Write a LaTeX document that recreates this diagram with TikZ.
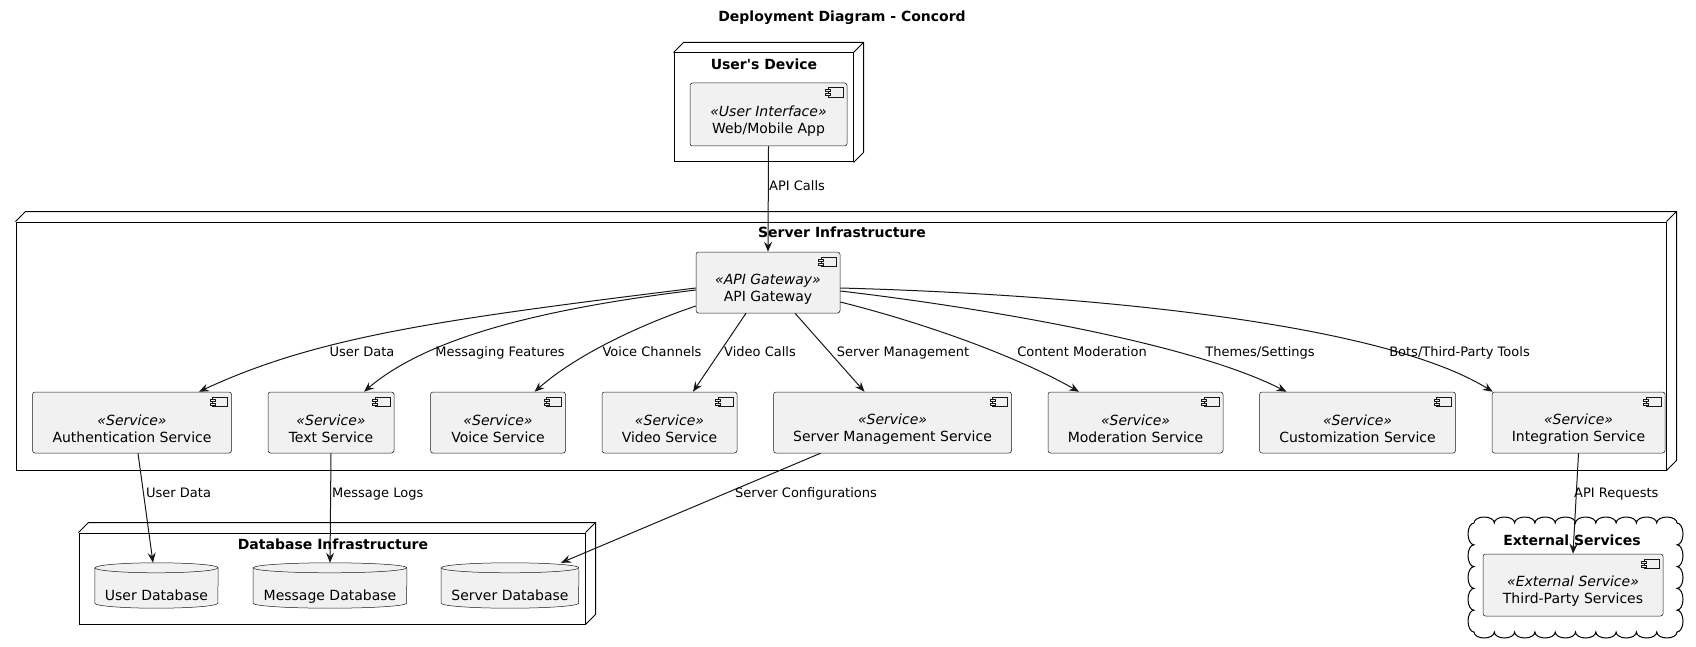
\documentclass[tikz,border=0pt]{standalone}
\usepackage{fontspec}
\setmainfont{DejaVu Sans}
\usetikzlibrary{arrows.meta,positioning,calc,backgrounds}

\definecolor{compfill}{HTML}{F1F1F1}
\definecolor{compline}{HTML}{181818}

\newcommand{\stereo}[1]{\rule{0pt}{23pt}\textit{«#1»}}
% small component icon in the top right corner
\newcommand{\compicon}[1]{%
  \draw[iconline] ($(#1.north east)+(-19.5,5)$) rectangle ++(15,9.5);
  \draw[iconline] ($(#1.north east)+(-22,7)$) rectangle ++(5,2);
  \draw[iconline] ($(#1.north east)+(-22,11)$) rectangle ++(5,2);
}
% top and side faces of a deployment node
\newcommand{\nodeback}[1]{%
  \draw[depline] (#1.north west) -- ++(10,-10) -| ($(#1.south east)+(10,-10)$) -- (#1.south east);
  \draw[depline] (#1.north east) -- ++(10,-10);
}
% database cylinder round a node, #2 = half width
\newcommand{\dbdraw}[2]{%
  \draw[dbline] ($(#1.north west)+(0,5)$) -- ($(#1.south west)+(0,-5)$)
    arc[start angle=180,end angle=0,x radius=#2,y radius=5]
    -- ($(#1.north east)+(0,5)$)
    arc[start angle=0,end angle=-180,x radius=#2,y radius=5] -- cycle;
  \draw[dbline,fill=none] ($(#1.north west)+(0,5)$) arc[start angle=180,end angle=0,x radius=#2,y radius=5];
}

\tikzset{
  depnode/.style={draw=black, line width=1pt, inner sep=0pt},
  depline/.style={draw=black, line width=1pt},
  deptitle/.style={font=\bfseries\fontsize{14}{17}\selectfont, inner sep=0pt, text height=10.5pt, text depth=0pt},
  comp/.style={draw=compline, line width=0.5pt, fill=compfill, rounded corners=2.5pt,
    minimum height=61pt, inner sep=3pt, align=center, font=\fontsize{14}{17}\selectfont},
  iconline/.style={draw=compline, line width=0.5pt, fill=compfill},
  db/.style={inner sep=0pt, minimum height=45pt, text height=31pt, text depth=2pt, font=\fontsize{14}{17}\selectfont},
  dbline/.style={draw=compline, line width=0.5pt, fill=compfill},
  flow/.style={draw=compline, line width=1pt, -{Stealth[length=10pt,width=8pt,inset=3.5pt]}},
  lbl/.style={font=\fontsize{13}{15}\selectfont, inner sep=0pt, text height=9.5pt, text depth=2.5pt},
}

\begin{document}
\begin{tikzpicture}[x=1pt,y=-1pt]
  \path[use as bounding box] (0,0) rectangle (1696,647);

  \node[deptitle, text depth=3pt] (title) at (842,18) {Deployment Diagram - Concord};

  % user's device
  \node[depnode, minimum width=179pt, minimum height=109pt] (dev) at (763.5,107.5) {};
  \nodeback{dev}
  \node[deptitle] (devtitle) at (764,64) {User\textquotesingle s Device};
  \node[comp, minimum width=157pt, minimum height=63pt] (app) at (768.5,114.5) {\stereo{User Interface}\\Web/Mobile App};

  % server infrastructure
  \node[depnode, minimum width=1650pt, minimum height=248pt] (srv) at (841,346) {};
  \nodeback{srv}
  \node[deptitle] (srvtitle) at (842,232) {Server Infrastructure};
  \node[comp, minimum width=144pt] (api) at (768,282.5) {\stereo{API Gateway}\\API Gateway};
  \node[comp, minimum width=199pt] (auth) at (132,422.5) {\stereo{Service}\\Authentication Service};
  \node[comp, minimum width=126pt, right=36pt of auth] (txt) {\stereo{Service}\\Text Service};
  \node[comp, minimum width=135pt, right=36pt of txt] (voice) {\stereo{Service}\\Voice Service};
  \node[comp, minimum width=135pt, right=36pt of voice] (video) {\stereo{Service}\\Video Service};
  \node[comp, minimum width=238pt, right=36pt of video] (srvmgmt) {\stereo{Service}\\Server Management Service};
  \node[comp, minimum width=175pt, right=36pt of srvmgmt] (moder) {\stereo{Service}\\Moderation Service};
  \node[comp, minimum width=196pt, right=36pt of moder] (custom) {\stereo{Service}\\Customization Service};
  \node[comp, minimum width=173pt, right=36pt of custom] (integ) {\stereo{Service}\\Integration Service};

  % database infrastructure
  \node[depnode, minimum width=506pt, minimum height=91pt] (dbinfra) at (332,578.5) {};
  \nodeback{dbinfra}
  \node[deptitle] (dbtitle) at (333,544) {Database Infrastructure};
  \node[db, minimum width=123pt] (userdb) at (156.5,585.5) {User Database};
  \node[db, minimum width=153.5pt] (msgdb) at (330,585.5) {Message Database};
  \node[db, minimum width=137.5pt] (srvdb) at (510,585.5) {Server Database};
  \begin{pgfonlayer}{background}
    \fill[white] (0,0) rectangle (1696,647);
    \dbdraw{userdb}{61.5}
    \dbdraw{msgdb}{76.75}
    \dbdraw{srvdb}{68.75}
  \end{pgfonlayer}

  % external services
  \draw[depline, fill=white] (1474,523)
    \foreach \i in {1,...,10} { arc[start angle=180,end angle=360,x radius=10.15,y radius=6] }
    \foreach \i in {1,...,5} { arc[start angle=-90,end angle=90,x radius=6,y radius=10.9] }
    \foreach \i in {1,...,10} { arc[start angle=0,end angle=180,x radius=10.15,y radius=6] }
    \foreach \i in {1,...,5} { arc[start angle=90,end angle=270,x radius=6,y radius=10.9] }
    -- cycle;
  \node[deptitle] (exttitle) at (1572,540) {External Services};
  \node[comp, minimum width=180pt, minimum height=62pt] (thirdp) at (1573,585) {\stereo{External Service}\\Third-Party Services};

  \foreach \c in {app,api,auth,txt,voice,video,srvmgmt,moder,custom,integ,thirdp} {\compicon{\c}}

  % connectors
  \draw[flow] (app.south) -- (api.north);
  \draw[flow] ($(api.west)+(0,5.5)$) .. controls +(-250,31) and +(120,-56) .. ($(auth.north)+(67,0)$);
  \draw[flow] ($(api.west)+(0,7.5)$) .. controls +(-130,16) and +(70,-60) .. ($(txt.north)+(33,0)$);
  \draw[flow] ($(api.west)+(0,23.5)$) .. controls +(-56,19) and +(42,-37) .. ($(voice.north)+(36.5,0)$);
  \draw[flow] ($(api.south)+(-22,0)$) -- ($(video.north)+(23.5,0)$);
  \draw[flow] ($(api.south)+(27,0)$) -- ($(srvmgmt.north)+(-28,0)$);
  \draw[flow] ($(api.east)+(0,19.5)$) .. controls +(80,20) and +(-65,-37) .. ($(moder.north)+(-56.5,0)$);
  \draw[flow] ($(api.east)+(0,8.5)$) .. controls +(120,14) and +(-102,-52) .. ($(custom.north)+(-71,0)$);
  \draw[flow] ($(api.east)+(0,5.5)$) .. controls +(260,7) and +(-108,-67) .. ($(integ.north west)+(1,0)$);
  \draw[flow] ($(auth.south)+(6,0)$) -- ($(userdb.north)+(-3.5,0)$);
  \draw[flow] (txt.south) -- (msgdb.north);
  \draw[flow] ($(srvmgmt.south)+(-72,0)$) -- ($(srvdb.north)+(51,0)$);
  \draw[flow] (integ.south) -- (thirdp.north);

  % connector labels
  \node[lbl, anchor=west] (lcalls) at (769,187) {API Calls};
  \node[lbl] (lauth) at (362,353) {User Data};
  \node[lbl] (ltxt) at (500,353) {Messaging Features};
  \node[lbl] (lvoice) at (652,353) {Voice Channels};
  \node[lbl] (lvideo) at (760,353) {Video Calls};
  \node[lbl] (lsrv) at (903,353) {Server Management};
  \node[lbl] (lmoder) at (1082,353) {Content Moderation};
  \node[lbl] (lcustom) at (1260,353) {Themes/Settings};
  \node[lbl] (linteg) at (1459.5,353) {Bots/Third-Party Tools};
  \node[lbl, anchor=west] (luserdb) at (146,494) {User Data};
  \node[lbl, anchor=west] (lmsgdb) at (332,494) {Message Logs};
  \node[lbl, anchor=west] (lsrvdb) at (735,494) {Server Configurations};
  \node[lbl, anchor=west] (lthirdp) at (1574,494) {API Requests};
\end{tikzpicture}
\end{document}
